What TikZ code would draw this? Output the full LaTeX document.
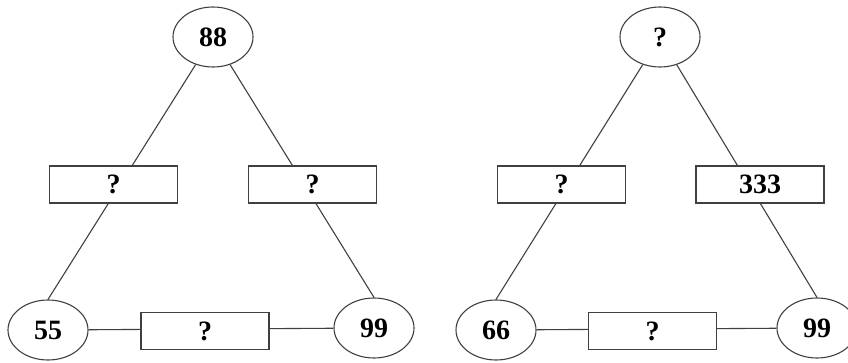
\documentclass[tikz,border=0pt]{standalone}
\usepackage{fontspec}
\setmainfont{Liberation Serif}
\usetikzlibrary{shapes.geometric}
\begin{document}
\begin{tikzpicture}[x=1pt,y=-1pt,
  edge/.style={draw=black!75, line width=1.1pt},
  oval/.style={ellipse, draw=black!75, line width=1.1pt, fill=white,
    minimum width=80pt, minimum height=60pt, inner sep=0pt,
    font=\fontsize{28}{30}\selectfont\bfseries},
  box/.style={rectangle, draw=black!75, line width=1.1pt, fill=white,
    minimum width=128pt, minimum height=37pt, inner sep=0pt,
    font=\fontsize{28}{30}\selectfont\bfseries}]
\useasboundingbox (0,0) rectangle (848,363);
% left triangle
\node[oval] (t1) at (213,37) {88};
\node[oval] (l1) at (48,330) {55};
\node[oval] (r1) at (374,328) {99};
\draw[edge] (t1) -- (l1.north);
\draw[edge] (t1) -- (r1.north);
\draw[edge] (l1) -- (r1);
\node[box] (bl1) at (113.5,184.5) {?};
\node[box] (br1) at (312.5,184.5) {?};
\node[box] (bb1) at (205,331) {?};
% right triangle
\node[oval] (t2) at (660,37) {?};
\node[oval] (l2) at (496,330) {66};
\node[oval] (r2) at (817,328) {99};
\draw[edge] (t2) -- (l2.north);
\draw[edge] (t2) -- (r2.north);
\draw[edge] (l2) -- (r2);
\node[box] (bl2) at (561.5,184.5) {?};
\node[box] (br2) at (760,184.5) {333};
\node[box] (bb2) at (652.5,331) {?};
\end{tikzpicture}
\end{document}
